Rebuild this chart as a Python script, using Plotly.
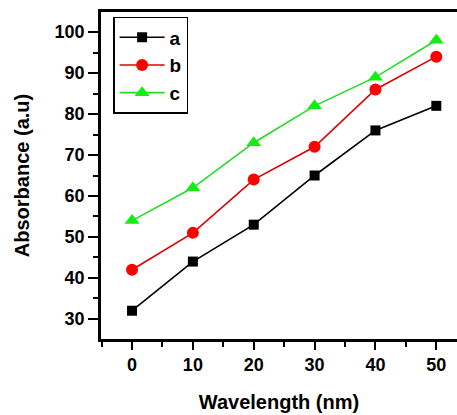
import plotly.graph_objects as go

wavelength = [0, 10, 20, 30, 40, 50]
series_a = [32, 44, 53, 65, 76, 82]
series_b = [42, 51, 64, 72, 86, 94]
series_c = [54, 62, 73, 82, 89, 98]

FONT = "Liberation Sans, Arial, sans-serif"

fig = go.Figure()
fig.add_trace(go.Scatter(x=wavelength, y=series_a, name="a", mode="lines+markers",
                         line=dict(color="black", width=1.6),
                         marker=dict(symbol="square", size=10, color="black")))
fig.add_trace(go.Scatter(x=wavelength, y=series_b, name="b", mode="lines+markers",
                         line=dict(color="#E00000", width=1.6),
                         marker=dict(symbol="circle", size=12, color="#FF0000")))
fig.add_trace(go.Scatter(x=wavelength, y=series_c, name="c", mode="lines+markers",
                         line=dict(color="#22DD22", width=1.6),
                         marker=dict(symbol="triangle-up", size=13, color="#11EE11")))

fig.update_layout(
    width=457, height=415,
    margin=dict(l=101, r=0, t=12, b=76),
    paper_bgcolor="white", plot_bgcolor="white",
    font=dict(family=FONT, size=18, color="black"),
    showlegend=True,
    legend=dict(x=0.034, y=0.985, xanchor="left", yanchor="top",
                bordercolor="black", borderwidth=1.5, bgcolor="white",
                font=dict(family=FONT, size=19, color="black", weight="bold"),
                tracegroupgap=0, itemwidth=45),
)
fig.update_xaxes(
    range=[-5.1, 53.4], showgrid=False, zeroline=False,
    showline=True, linecolor="black", linewidth=2.5, mirror=True,
    ticks="outside", tickwidth=2, ticklen=8, tickcolor="black",
    tickmode="array", tickvals=wavelength, ticktext=[str(v) for v in wavelength],
    tickfont=dict(family=FONT, size=18, weight="bold"),
    minor=dict(ticks="outside", ticklen=5, tickwidth=2, tickcolor="black", dtick=5, tick0=5, showgrid=False),
    title=dict(text="Wavelength (nm)", font=dict(family=FONT, size=20, weight="bold"), standoff=21),
)
fig.update_yaxes(
    range=[25.1, 104.9], showgrid=False, zeroline=False,
    showline=True, linecolor="black", linewidth=2.5, mirror=False,
    ticks="outside", tickwidth=2, ticklen=10, tickcolor="black",
    tickmode="array", tickvals=[30, 40, 50, 60, 70, 80, 90, 100],
    tickfont=dict(family=FONT, size=18, weight="bold"),
    minor=dict(ticks="outside", ticklen=5, tickwidth=2, tickcolor="black", dtick=5, tick0=25, showgrid=False),
    title=dict(text="Absorbance (a.u)", font=dict(family=FONT, size=20, weight="bold"), standoff=20),
)

fig.write_html("out.html")
